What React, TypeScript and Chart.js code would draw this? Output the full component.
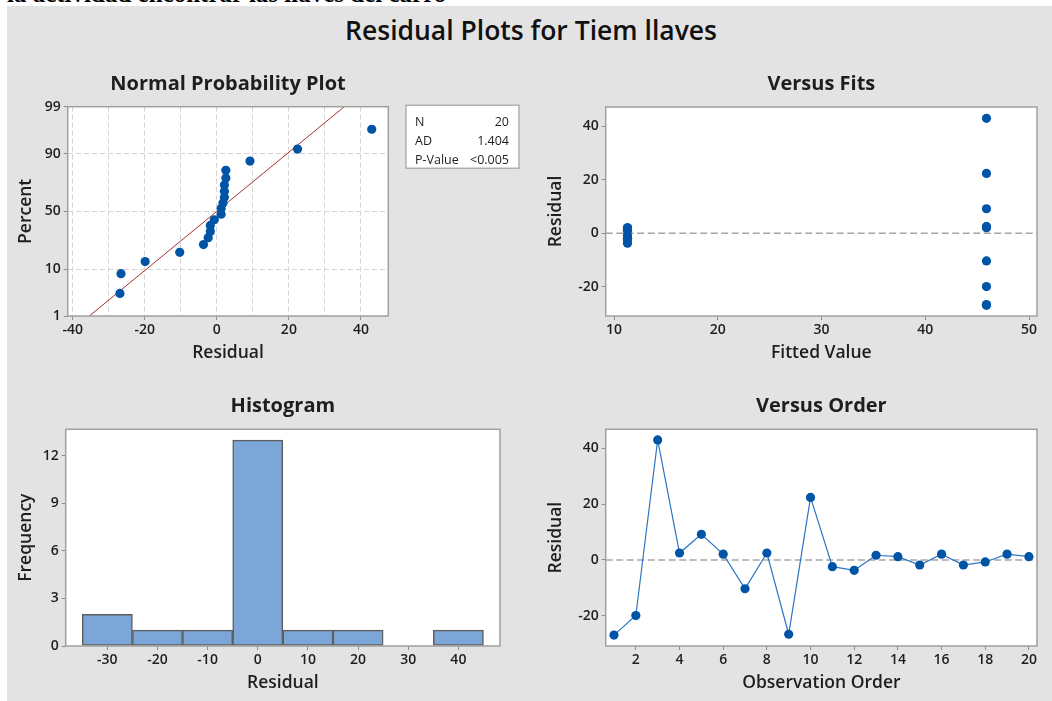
import React, { useEffect, useRef } from "react";
import { Chart, registerables, LinearScale } from "chart.js";

Chart.register(...registerables);

// ---------------- data ----------------
const OBSERVATION_ORDER = [1, 2, 3, 4, 5, 6, 7, 8, 9, 10, 11, 12, 13, 14, 15, 16, 17, 18, 19, 20];
const RESIDUALS = [-26.9, -19.9, 43.0, 2.5, 9.2, 2.1, -10.3, 2.5, -26.6, 22.4, -2.4, -3.7, 1.7, 1.2, -1.8, 2.1, -1.8, -0.7, 2.1, 1.2];
const FITTED_VALUES = [45.9, 45.9, 45.9, 45.9, 45.9, 45.9, 45.9, 45.9, 45.9, 45.9, 11.3, 11.3, 11.3, 11.3, 11.3, 11.3, 11.3, 11.3, 11.3, 11.3];
const SORTED_RESIDUALS = [-26.9, -26.6, -19.9, -10.3, -3.7, -2.4, -1.8, -1.8, -0.7, 1.2, 1.2, 1.7, 2.1, 2.1, 2.1, 2.5, 2.5, 9.2, 22.4, 43.0];
const NORMAL_PERCENTS = [3.4, 8.3, 13.2, 18.1, 23.0, 27.9, 32.8, 37.7, 42.6, 47.5, 52.5, 57.4, 62.3, 67.2, 72.1, 77.0, 81.9, 86.8, 91.7, 96.6];
const FIT_LINE_RESIDUALS = [-35.4, 35.4];
const FIT_LINE_PERCENTS = [1, 99];
const HIST_BIN_CENTERS = [-30, -20, -10, 0, 10, 20, 30, 40];
const HIST_COUNTS = [2, 1, 1, 13, 1, 1, 0, 1];
const STAT_LABELS = ["N", "AD", "P-Value"];
const STAT_VALUES = ["20", "1.404", "<0.005"];
const REFERENCE_RESIDUAL = 0;

// tick values
const NP_X_TICKS = [-40, -30, -20, -10, 0, 10, 20, 30, 40];
const NP_Y_TICKS = [1, 10, 50, 90, 99];
const FIT_X_TICKS = [10, 20, 30, 40, 50];
const RESID_Y_TICKS = [-20, 0, 20, 40];
const HIST_X_TICKS = [-30, -20, -10, 0, 10, 20, 30, 40];
const HIST_Y_TICKS = [0, 3, 6, 9, 12];
const ORDER_X_TICKS = [2, 4, 6, 8, 10, 12, 14, 16, 18, 20];

// text
const MAIN_TITLE = "Residual Plots for Tiem llaves";
const CUT_TEXT = "la actividad encontrar las llaves del carro";

// ---------------- styles ----------------
const FONT = "'Open Sans', 'Noto Sans', sans-serif";
const TEXT = "#1e1e1e";
const TICK_MARK = "#8c8c8c";
const BLUE = "#0054a6";
const LINE_BLUE = "#2f74c2";
const RED = "#a8302c";
const FRAME = "#a0a0a0";

Chart.defaults.font.family = FONT;
Chart.defaults.color = TEXT;

// inverse standard normal CDF (Acklam)
function qnorm(p: number): number {
  const a = [-3.969683028665376e1, 2.209460984245205e2, -2.759285104469687e2, 1.38357751867269e2, -3.066479806614716e1, 2.506628277459239];
  const b = [-5.447609879822406e1, 1.615858368580409e2, -1.556989798598866e2, 6.680131188771972e1, -1.328068155288572e1];
  const c = [-7.784894002430293e-3, -3.223964580411365e-1, -2.400758277161838, -2.549671010115261, 4.374664141464968, 2.938163982698783];
  const d = [7.784695709041462e-3, 3.224671290700398e-1, 2.445134137142996, 3.754408661907416];
  const pl = 0.02425;
  if (p < pl) {
    const q = Math.sqrt(-2 * Math.log(p));
    return (((((c[0] * q + c[1]) * q + c[2]) * q + c[3]) * q + c[4]) * q + c[5]) / ((((d[0] * q + d[1]) * q + d[2]) * q + d[3]) * q + 1);
  }
  if (p > 1 - pl) {
    const q = Math.sqrt(-2 * Math.log(1 - p));
    return -(((((c[0] * q + c[1]) * q + c[2]) * q + c[3]) * q + c[4]) * q + c[5]) / ((((d[0] * q + d[1]) * q + d[2]) * q + d[3]) * q + 1);
  }
  const q = p - 0.5;
  const r = q * q;
  return ((((((a[0] * r + a[1]) * r + a[2]) * r + a[3]) * r + a[4]) * r + a[5]) * q) / (((((b[0] * r + b[1]) * r + b[2]) * r + b[3]) * r + b[4]) * r + 1);
}

// Normal probability (percent) scale
class ProbabilityScale extends LinearScale {
  static id = "probability";
  static defaults = {};
  getPixelForValue(value: number) {
    const zmin = qnorm((this as any).min / 100);
    const zmax = qnorm((this as any).max / 100);
    const p = Math.min(Math.max(value, 1e-6), 100 - 1e-6);
    return (this as any).getPixelForDecimal((qnorm(p / 100) - zmin) / (zmax - zmin));
  }
  getValueForPixel(pixel: number) {
    let lo = 1e-6;
    let hi = 100 - 1e-6;
    const dir = this.getPixelForValue(hi) > this.getPixelForValue(lo) ? 1 : -1;
    for (let i = 0; i < 50; i++) {
      const mid = (lo + hi) / 2;
      if ((this.getPixelForValue(mid) - pixel) * dir < 0) lo = mid;
      else hi = mid;
    }
    return (lo + hi) / 2;
  }
}
Chart.register(ProbabilityScale as any);

// ---------------- plugins ----------------
const plotFrame = {
  id: "plotFrame",
  beforeDraw(chart: any) {
    const { ctx, chartArea: a } = chart;
    ctx.save();
    ctx.fillStyle = "#ffffff";
    ctx.fillRect(a.left, a.top, a.right - a.left, a.bottom - a.top);
    ctx.restore();
  },
  afterDraw(chart: any) {
    const { ctx, chartArea: a } = chart;
    ctx.save();
    ctx.strokeStyle = FRAME;
    ctx.lineWidth = 1.5;
    ctx.strokeRect(a.left, a.top, a.right - a.left, a.bottom - a.top);
    ctx.restore();
  },
};

const zeroLine = {
  id: "zeroLine",
  beforeDatasetsDraw(chart: any) {
    const { ctx, chartArea: a } = chart;
    const y = chart.scales.y.getPixelForValue(REFERENCE_RESIDUAL);
    ctx.save();
    ctx.strokeStyle = "#a6a6a6";
    ctx.lineWidth = 1.5;
    ctx.setLineDash([7, 3.5]);
    ctx.beginPath();
    ctx.moveTo(a.left, y);
    ctx.lineTo(a.right, y);
    ctx.stroke();
    ctx.restore();
  },
};

const statsBox = {
  id: "statsBox",
  afterDraw(chart: any) {
    const { ctx, chartArea: a } = chart;
    const x = a.right + 17.7;
    const y = a.top - 1.5;
    const w = 113;
    const h = 63;
    ctx.save();
    ctx.fillStyle = "#ffffff";
    ctx.fillRect(x, y, w, h);
    ctx.strokeStyle = FRAME;
    ctx.lineWidth = 1.2;
    ctx.strokeRect(x, y, w, h);
    ctx.fillStyle = TEXT;
    ctx.font = `12.5px ${FONT}`;
    ctx.textBaseline = "middle";
    STAT_LABELS.forEach((lab, i) => {
      const ly = y + 17.5 + i * 18.8;
      ctx.textAlign = "left";
      ctx.fillText(lab, x + 9, ly);
      ctx.textAlign = "right";
      ctx.fillText(STAT_VALUES[i], x + w - 10, ly);
    });
    ctx.restore();
  },
};

// ---------------- helpers ----------------
type AxisSpec = {
  type?: string;
  min: number;
  max: number;
  ticks: number[];
  size: number;
  title: string;
  titlePad: number;
  label?: (v: number) => string;
  tickColor?: any;
  grid?: boolean;
};

function makeAxis(axis: "x" | "y", s: AxisSpec) {
  return {
    type: s.type ?? "linear",
    position: axis === "x" ? "bottom" : "left",
    min: s.min,
    max: s.max,
    offset: false,
    afterBuildTicks: (scale: any) => {
      scale.ticks = s.ticks.map((v) => ({ value: v }));
    },
    afterFit: (scale: any) => {
      if (axis === "x") scale.height = s.size;
      else scale.width = s.size;
    },
    border: { display: false, dash: [5, 3] },
    grid: {
      offset: false,
      drawOnChartArea: !!s.grid,
      color: "#d4d4d4",
      lineWidth: 1,
      drawTicks: true,
      tickLength: 4,
      tickWidth: 1,
      tickColor: s.tickColor ?? TICK_MARK,
      tickBorderDash: [],
    },
    ticks: {
      autoSkip: false,
      maxRotation: 0,
      minRotation: 0,
      padding: axis === "x" ? 2 : 3,
      color: TEXT,
      font: { family: FONT, size: 14, weight: "600" },
      callback: (v: any) => (s.label ? s.label(Number(v)) : String(v)),
    },
    title: {
      display: true,
      text: s.title,
      color: TEXT,
      font: { family: FONT, size: 17.5, weight: "600", lineHeight: 1.2 },
      padding: axis === "x" ? { top: 0, bottom: s.titlePad } : { top: s.titlePad, bottom: 0 },
    },
  };
}

function baseOptions(title: string, padRight: number, titleTop: number, titleBottom: number) {
  return {
    responsive: false,
    maintainAspectRatio: false,
    animation: false,
    events: [] as string[],
    layout: { padding: { left: 0, top: 0, right: padRight, bottom: 0 } },
    plugins: {
      legend: { display: false },
      tooltip: { enabled: false },
      title: {
        display: true,
        text: title,
        fullSize: false,
        color: TEXT,
        font: { family: FONT, size: 20, weight: "bold", lineHeight: 1.2 },
        padding: { top: titleTop, bottom: titleBottom },
      },
    },
  };
}

// ---------------- chart builders ----------------
function buildNormal(): any {
  return {
    type: "scatter",
    data: {
      datasets: [
        {
          data: SORTED_RESIDUALS.map((x, i) => ({ x, y: NORMAL_PERCENTS[i] })),
          pointRadius: 4.6,
          pointBackgroundColor: BLUE,
          pointBorderWidth: 0,
          showLine: false,
        },
        {
          data: FIT_LINE_RESIDUALS.map((x, i) => ({ x, y: FIT_LINE_PERCENTS[i] })),
          showLine: true,
          borderColor: RED,
          borderWidth: 1,
          pointRadius: 0,
          fill: false,
          tension: 0,
        },
      ],
    },
    options: {
      ...baseOptions("Normal Probability Plot", 141.7, 22.1, 10.6),
      scales: {
        x: makeAxis("x", {
          min: -41.4,
          max: 47.6,
          ticks: NP_X_TICKS,
          size: 54,
          title: "Residual",
          titlePad: 6.5,
          grid: true,
          label: (v) => (Math.abs(v) % 20 === 0 ? String(v) : ""),
          tickColor: (ctx: any) => (ctx.tick && Math.abs(ctx.tick.value) % 20 === 0 ? TICK_MARK : "rgba(0,0,0,0)"),
        }),
        y: makeAxis("y", {
          type: "probability",
          min: 1,
          max: 99,
          ticks: NP_Y_TICKS,
          size: 67.7,
          title: "Percent",
          titlePad: 15.8,
          grid: true,
        }),
      },
    },
    plugins: [plotFrame, statsBox],
  };
}

function buildFits(): any {
  return {
    type: "scatter",
    data: {
      datasets: [
        {
          data: FITTED_VALUES.map((x, i) => ({ x, y: RESIDUALS[i] })),
          pointRadius: 4.6,
          pointBackgroundColor: BLUE,
          pointBorderWidth: 0,
        },
      ],
    },
    options: {
      ...baseOptions("Versus Fits", 15, 22.1, 10.9),
      scales: {
        x: makeAxis("x", { min: 9.2, max: 50.77, ticks: FIT_X_TICKS, size: 54, title: "Fitted Value", titlePad: 6.5 }),
        y: makeAxis("y", { min: -30.9, max: 47.25, ticks: RESID_Y_TICKS, size: 75.7, title: "Residual", titlePad: 15.8 }),
      },
    },
    plugins: [plotFrame, zeroLine],
  };
}

function buildHistogram(): any {
  return {
    type: "bar",
    data: {
      datasets: [
        {
          data: HIST_BIN_CENTERS.map((x, i) => ({ x, y: HIST_COUNTS[i] })),
          backgroundColor: "#7da6d8",
          borderColor: "#5e5e5e",
          borderWidth: 1.5,
          borderSkipped: false,
          barPercentage: 1,
          categoryPercentage: 1,
        },
      ],
    },
    options: {
      ...baseOptions("Histogram", 30, 22.4, 10.9),
      scales: {
        x: makeAxis("x", { min: -38.3, max: 48.3, ticks: HIST_X_TICKS, size: 55, title: "Residual", titlePad: 7.5 }),
        y: makeAxis("y", { min: 0, max: 13.68, ticks: HIST_Y_TICKS, size: 65.7, title: "Frequency", titlePad: 15.8 }),
      },
    },
    plugins: [plotFrame],
  };
}

function buildOrder(): any {
  return {
    type: "scatter",
    data: {
      datasets: [
        {
          data: OBSERVATION_ORDER.map((x, i) => ({ x, y: RESIDUALS[i] })),
          showLine: true,
          borderColor: LINE_BLUE,
          borderWidth: 1.2,
          tension: 0,
          pointRadius: 4.6,
          pointBackgroundColor: BLUE,
          pointBorderWidth: 0,
        },
      ],
    },
    options: {
      ...baseOptions("Versus Order", 15, 22.4, 10.9),
      scales: {
        x: makeAxis("x", { min: 0.62, max: 20.37, ticks: ORDER_X_TICKS, size: 55, title: "Observation Order", titlePad: 7.5 }),
        y: makeAxis("y", { min: -30.8, max: 46.8, ticks: RESID_Y_TICKS, size: 75.7, title: "Residual", titlePad: 15.8 }),
      },
    },
    plugins: [plotFrame, zeroLine],
  };
}

// ---------------- components ----------------
function ChartPanel(props: { left: number; top: number; width: number; height: number; build: () => any }) {
  const ref = useRef<HTMLCanvasElement | null>(null);
  const { left, top, width, height, build } = props;
  useEffect(() => {
    if (!ref.current) return;
    const chart = new Chart(ref.current, build());
    return () => chart.destroy();
  }, [build]);
  return (
    <canvas
      ref={ref}
      width={width}
      height={height}
      style={{ position: "absolute", left, top, width, height, display: "block" }}
    />
  );
}

export default function App() {
  return (
    <div style={{ position: "absolute", left: 0, top: 0, width: 1052, height: 701, background: "#ffffff", overflow: "hidden" }}>
      <div style={{ position: "absolute", left: 0, top: 0, width: 1052, height: 6, overflow: "hidden" }}>
        <div
          style={{
            position: "absolute",
            left: 7,
            top: -19.5,
            whiteSpace: "nowrap",
            font: "bold 25px/25px 'Liberation Serif', 'Times New Roman', serif",
            color: "#000",
          }}
        >
          {CUT_TEXT}
        </div>
      </div>
      <div style={{ position: "absolute", left: 7, top: 6, width: 1045, height: 695, background: "#e3e3e3" }} />
      <div
        style={{
          position: "absolute",
          left: 7,
          top: 12.3,
          width: 1048,
          textAlign: "center",
          whiteSpace: "nowrap",
          font: `600 26.5px/36px ${FONT}`,
          color: "#111",
        }}
      >
        {MAIN_TITLE}
      </div>
      <ChartPanel left={0} top={50} width={530} height={320} build={buildNormal} />
      <ChartPanel left={530} top={50} width={522} height={320} build={buildFits} />
      <ChartPanel left={0} top={372} width={530} height={329} build={buildHistogram} />
      <ChartPanel left={530} top={372} width={522} height={329} build={buildOrder} />
    </div>
  );
}
